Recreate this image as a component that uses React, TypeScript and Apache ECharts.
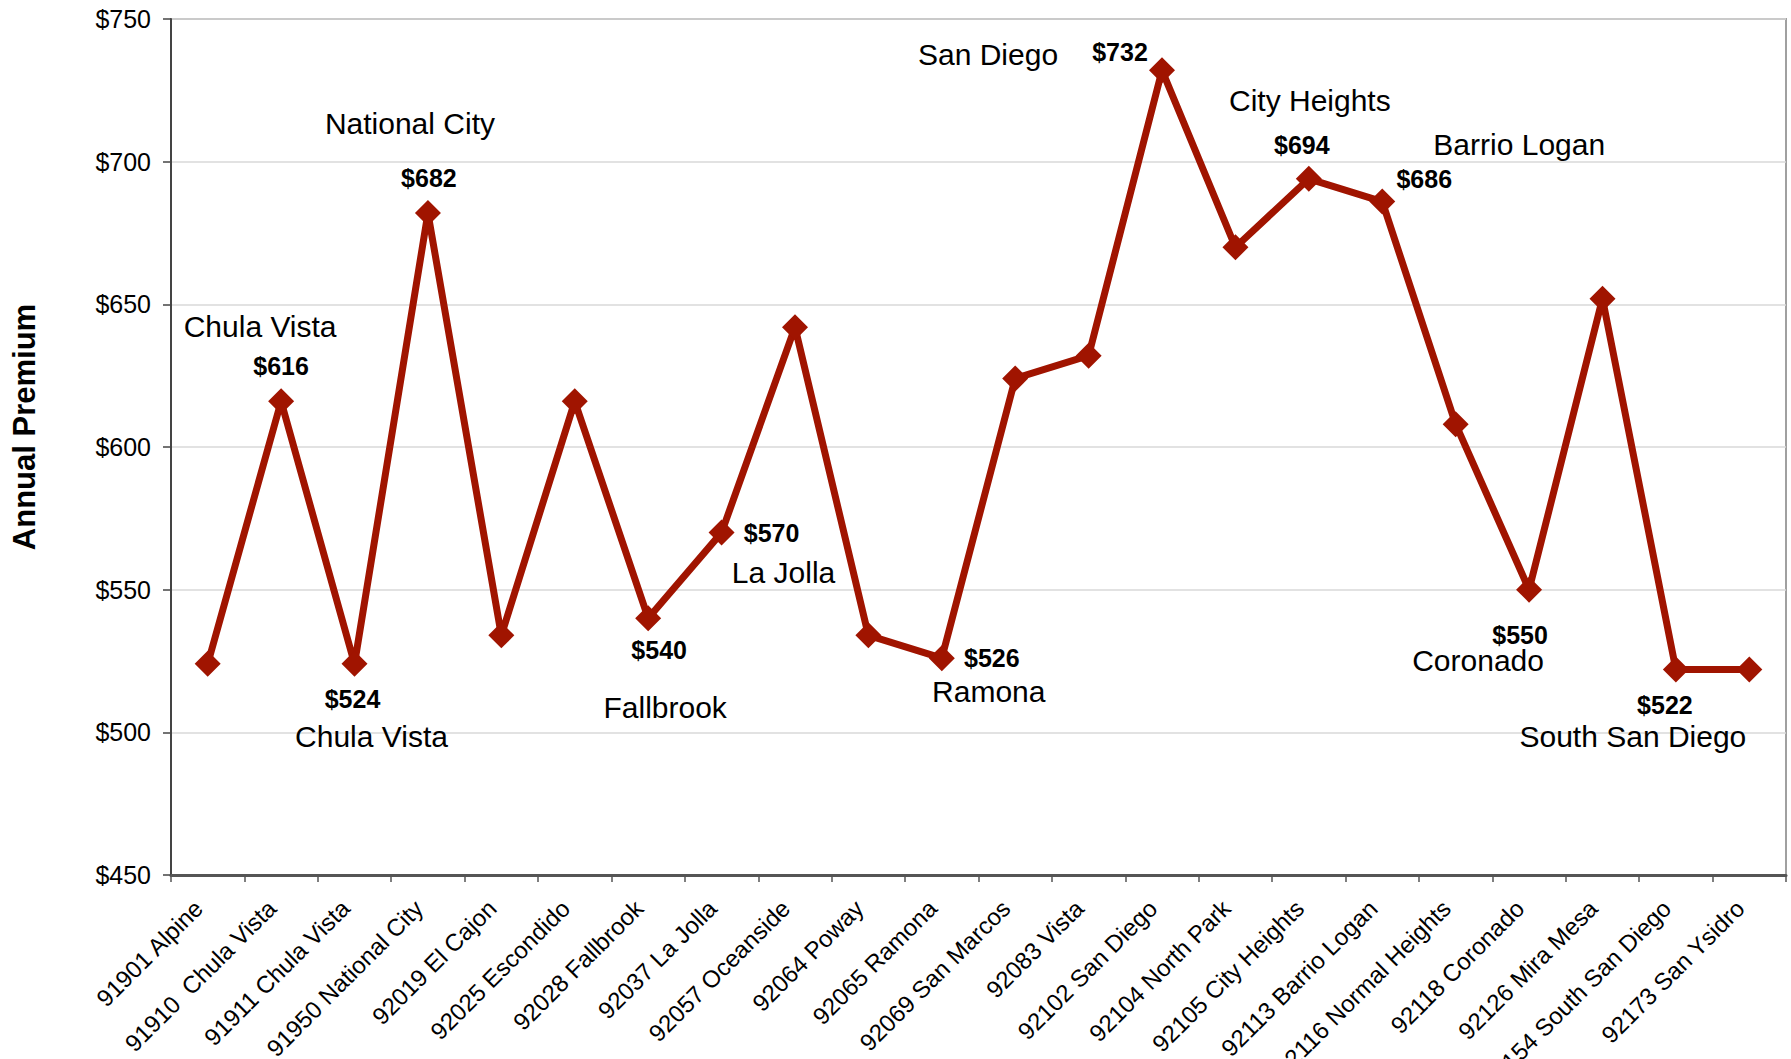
import React, { useEffect, useRef } from "react";
import * as echarts from "echarts";

const categories = [
  "91901 Alpine",
  "91910  Chula Vista",
  "91911 Chula Vista",
  "91950 National City",
  "92019 El Cajon",
  "92025 Escondido",
  "92028 Fallbrook",
  "92037 La Jolla",
  "92057 Oceanside",
  "92064 Poway",
  "92065 Ramona",
  "92069 San Marcos",
  "92083 Vista",
  "92102 San Diego",
  "92104 North Park",
  "92105 City Heights",
  "92113 Barrio Logan",
  "92116 Normal Heights",
  "92118 Coronado",
  "92126 Mira Mesa",
  "92154 South San Diego",
  "92173 San Ysidro",
];

const premiums = [524, 616, 524, 682, 534, 616, 540, 570, 642, 534, 526, 624, 632, 732, 670, 694, 686, 608, 550, 652, 522, 522];

// annotated points: index, place name
const annotatedIdx = [1, 2, 3, 6, 7, 10, 13, 15, 16, 18, 20];
const annotatedNames = ["Chula Vista", "Chula Vista", "National City", "Fallbrook", "La Jolla", "Ramona", "San Diego", "City Heights", "Barrio Logan", "Coronado", "South San Diego"];

// label offsets (style only)
const valueOffsets: [number, number][] = [
  [0, -35], [-2, 35], [1, -35], [11, 32], [50, 0], [50, 0], [-42, -18], [-7, -34], [42, -23], [-9, 45], [-11, 35],
];
const nameOffsets: [number, number][] = [
  [-21, -75], [17, 73], [-18, -90], [17, 89], [62, 40], [47, 33], [-174, -16], [1, -78], [137, -57], [-51, 71], [-43, 67],
];

const yTicks = { min: 450, max: 750, interval: 50 };
const FONT = "'Liberation Sans', Arial, sans-serif";
const RED = "#A01400";

export default function App() {
  const ref = useRef<HTMLDivElement>(null);
  useEffect(() => {
    document.body.style.margin = "0";
    const chart = echarts.init(ref.current!, null, { renderer: "svg" });

    const valueData = premiums.map((v, i) => {
      const k = annotatedIdx.indexOf(i);
      if (k < 0) return { value: v };
      return {
        value: v,
        label: {
          show: true,
          position: "inside",
          offset: valueOffsets[k],
          formatter: "${c}",
          fontSize: 25,
          fontWeight: "bold",
          fontFamily: FONT,
          color: "#000",
          align: "center",
          verticalAlign: "middle",
        },
      };
    });
    const nameData = premiums.map((v, i) => {
      const k = annotatedIdx.indexOf(i);
      if (k < 0) return { value: v };
      return {
        value: v,
        label: {
          show: true,
          position: "inside",
          offset: nameOffsets[k],
          formatter: annotatedNames[k],
          fontSize: 30,
          fontFamily: FONT,
          color: "#000",
          align: "center",
          verticalAlign: "middle",
        },
      };
    });

    chart.setOption({
      animation: false,
      backgroundColor: "#fff",
      grid: {
        left: 171,
        right: 5,
        top: 19,
        bottom: 184,
        containLabel: false,
        outerBoundsMode: "none",
        show: true,
        borderColor: "#a0a0a0",
        borderWidth: 2,
      },
      xAxis: {
        type: "category",
        data: categories,
        boundaryGap: true,
        axisLine: { show: true, lineStyle: { color: "#555", width: 3 } },
        axisTick: { show: true, length: 7, lineStyle: { color: "#555", width: 1.5 } },
        axisLabel: {
          interval: 0,
          rotate: 45,
          margin: 20,
          padding: [0, 13, 0, 0],
          fontSize: 24,
          fontFamily: FONT,
          color: "#000",
        },
        splitLine: { show: false },
      },
      yAxis: {
        type: "value",
        min: yTicks.min,
        max: yTicks.max,
        interval: yTicks.interval,
        axisLine: { show: true, lineStyle: { color: "#444", width: 2 } },
        axisTick: { show: true, length: 8, lineStyle: { color: "#444", width: 1.5 } },
        axisLabel: {
          margin: 20,
          fontSize: 25,
          fontFamily: FONT,
          color: "#000",
          formatter: (v: number) => "$" + v,
        },
        splitLine: { show: true, lineStyle: { color: "#d9d9d9", width: 1.5 } },
      },
      graphic: [
        {
          type: "text",
          x: 24,
          y: 427,
          rotation: Math.PI / 2,
          style: {
            text: "Annual Premium",
            fontSize: 31,
            fontWeight: "bold",
            fontFamily: FONT,
            fill: "#000",
            textAlign: "center",
            textVerticalAlign: "middle",
          },
        },
      ],
      series: [
        {
          type: "line",
          data: valueData,
          symbol: "diamond",
          symbolSize: 26,
          lineStyle: { color: RED, width: 7 },
          itemStyle: { color: RED },
          label: { show: false },
          z: 3,
        },
        {
          type: "line",
          data: nameData,
          symbol: "diamond",
          symbolSize: 26,
          lineStyle: { color: "rgba(0,0,0,0)", width: 0 },
          itemStyle: { color: "rgba(0,0,0,0)", borderWidth: 0 },
          label: { show: false },
          z: 4,
          silent: true,
        },
      ],
    });
    return () => chart.dispose();
  }, []);
  return <div ref={ref} style={{ width: 1791, height: 1059 }} />;
}
